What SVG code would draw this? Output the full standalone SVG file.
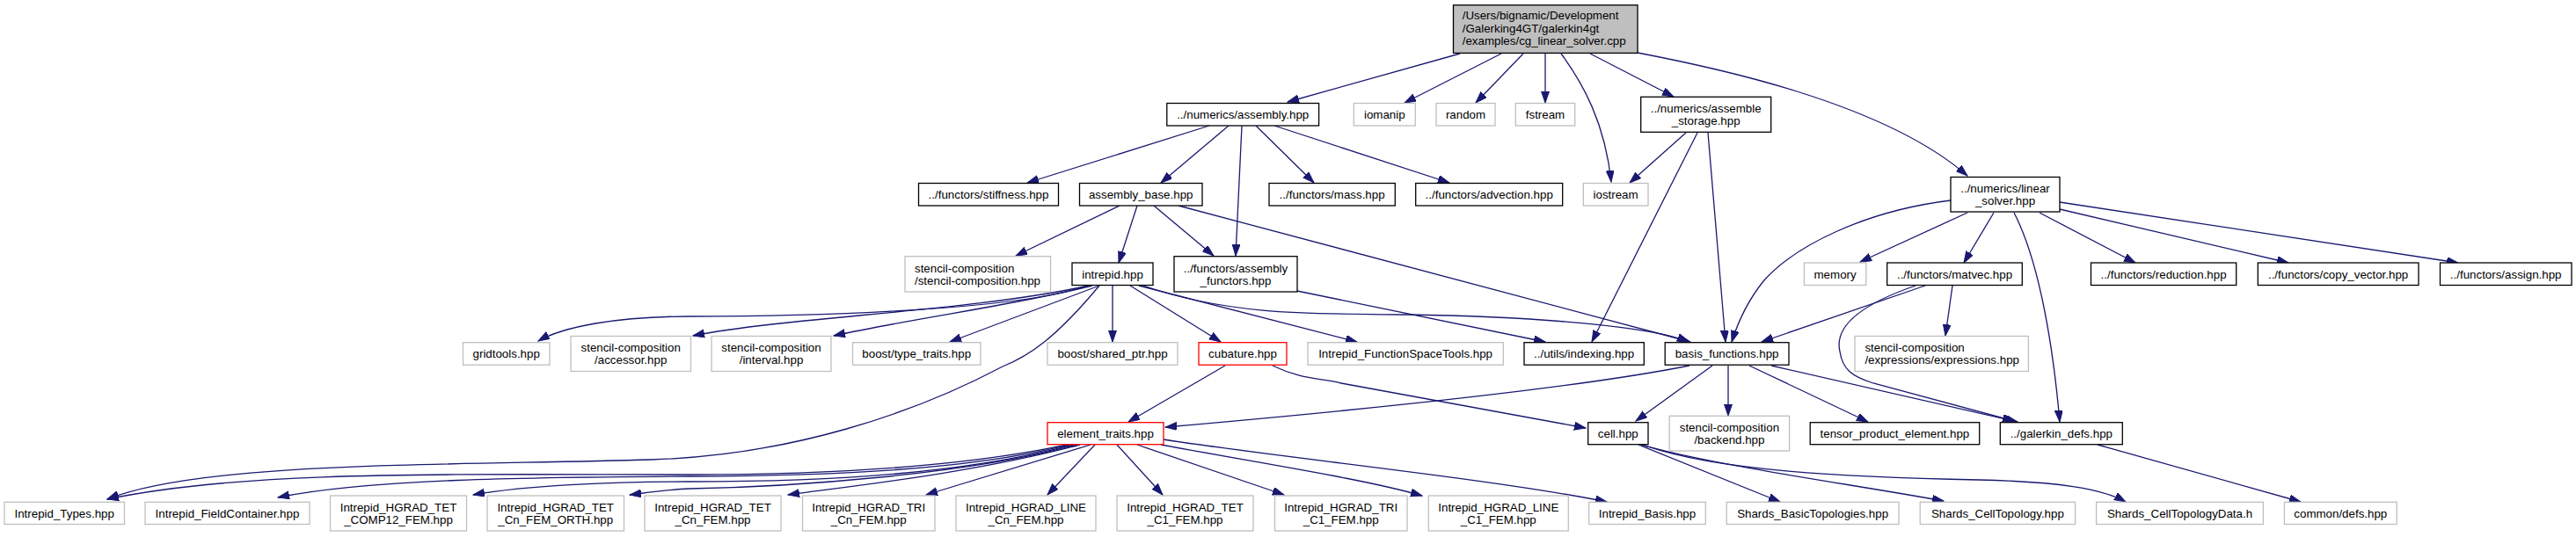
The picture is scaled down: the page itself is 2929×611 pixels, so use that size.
<svg xmlns="http://www.w3.org/2000/svg" width="2929" height="611" viewBox="0 0 2929 611">
<defs>
<marker id="ah" markerUnits="userSpaceOnUse" markerWidth="14" markerHeight="10" refX="13" refY="4.5" orient="auto" viewBox="0 0 14 10">
<path d="M0,0 L13,4.5 L0,9 Z" fill="#191970" stroke="#191970" stroke-width="1"/>
</marker>
<style>
rect{fill:#fff;stroke-width:1.3}
.b rect{stroke:#000}
.g rect{stroke:#bfbfbf}
.r rect{stroke:#ff0000}
.m rect{fill:#bfbfbf;stroke:#000}
text{font-family:"Liberation Sans",Arial,Helvetica,sans-serif;font-size:13.33px;fill:#000;text-anchor:middle}
text.l{text-anchor:start}
#edges path{fill:none;stroke:#191970;stroke-width:1.3;marker-end:url(#ah)}
</style>
</defs>
<rect x="0" y="0" width="2929" height="611" style="fill:#fff;stroke:none"/>
<g id="edges">
<path d="M1660,61 L1464,116"/>
<path d="M1707,61 L1597,117"/>
<path d="M1732,61 L1678,117"/>
<path d="M1757,61 L1757,117"/>
<path d="M1775,61 C1800,95 1825,140 1832,207"/>
<path d="M1808,61 L1903,110"/>
<path d="M1862,60 C1940,75 2140,115 2237,200"/>
<path d="M1375,143 L1168,208"/>
<path d="M1397,143 L1320,208"/>
<path d="M1412,143 L1405,291"/>
<path d="M1428,143 L1494,208"/>
<path d="M1449,143 L1648,208"/>
<path d="M1273,234 L1155,291"/>
<path d="M1293,234 L1272,299"/>
<path d="M1312,234 L1380,291"/>
<path d="M1340,234 L1922,389"/>
<path d="M1470,330 L1757,389"/>
<path d="M1237,325 C1150,355 900,360 784,360 C700,360 640,372 612,388"/>
<path d="M1238,325 C1100,355 900,360 788,382"/>
<path d="M1242,325 C1150,348 1050,360 948,382"/>
<path d="M1250,325 L1080,389"/>
<path d="M1250,325 C1200,385 1170,405 1140,417 C1040,470 900,518 740,523 C500,530 230,525 122,568"/>
<path d="M1265,325 L1265,389"/>
<path d="M1285,325 L1388,389"/>
<path d="M1295,325 L1543,389"/>
<path d="M1300,325 C1400,360 1500,357 1600,358 C1750,360 1880,372 1920,389"/>
<path d="M1393,416 L1283,480"/>
<path d="M1447,416 C1480,432 1500,430 1525,436 L1803,487"/>
<path d="M1921,416 C1800,440 1600,462 1325,486"/>
<path d="M1947,416 L1860,479"/>
<path d="M1965,416 L1965,473"/>
<path d="M1989,416 L2124,480"/>
<path d="M2014,416 L2294,480"/>
<path d="M1863,506 L2024,571"/>
<path d="M1866,506 C1950,530 2100,550 2210,570"/>
<path d="M1868,506 C1950,536 2100,543 2250,546 C2340,548 2390,556 2417,571"/>
<path d="M2385,506 L2616,571"/>
<path d="M2218,228 C2120,240 2040,280 2005,320 C1985,345 1975,370 1969,389"/>
<path d="M2237,242 L2115,298"/>
<path d="M2267,242 L2233,299"/>
<path d="M2290,242 C2320,300 2335,400 2342,480"/>
<path d="M2319,242 L2428,299"/>
<path d="M2342,238 L2602,299"/>
<path d="M2342,230 L2795,299"/>
<path d="M1917,151 L1853,208"/>
<path d="M1930,151 L1810,389"/>
<path d="M1942,151 L1962,389"/>
<path d="M2189,325 L2003,389"/>
<path d="M2220,325 L2212,382"/>
<path d="M2178,325 C2120,345 2085,370 2092,400 C2095,420 2105,428 2130,436 L2290,479"/>
<path d="M1213,506 C1100,530 950,540 784,540 C500,540 280,535 122,568"/>
<path d="M1216,506 C1100,535 950,541 784,542 C600,543 420,545 316,566"/>
<path d="M1220,506 C1100,538 950,548 784,548 C700,548 600,552 538,563"/>
<path d="M1224,506 C1100,540 900,554 784,556 C760,557 740,560 716,563"/>
<path d="M1228,506 C1100,540 950,555 896,563"/>
<path d="M1240,506 L1053,563"/>
<path d="M1245,506 L1191,563"/>
<path d="M1270,506 L1322,563"/>
<path d="M1293,506 L1460,563"/>
<path d="M1320,506 C1450,530 1550,545 1617,564"/>
<path d="M1323,500 C1450,520 1700,545 1827,571"/>
</g>

<g id="main" class="m"><rect x="1652.5" y="5.8" width="209.5" height="54.6"/>
<text class="l" x="1662.7" y="22.2">/Users/bignamic/Development</text>
<text class="l" x="1662.7" y="36.8">/Galerking4GT/galerkin4gt</text>
<text class="l" x="1662.7" y="51.4">/examples/cg_linear_solver.cpp</text></g>

<g id="assembly" class="b"><rect x="1326.8" y="117.5" width="172.8" height="25.5"/><text x="1413.2" y="135">../numerics/assembly.hpp</text></g>
<g id="iomanip" class="g"><rect x="1539.3" y="117.5" width="70" height="25.5"/><text x="1574.3" y="135">iomanip</text></g>
<g id="random" class="g"><rect x="1633" y="117.5" width="67" height="25.5"/><text x="1666.5" y="135">random</text></g>
<g id="fstream" class="g"><rect x="1723.3" y="117.5" width="67.4" height="25.5"/><text x="1757" y="135">fstream</text></g>
<g id="assemble_storage" class="b"><rect x="1865.7" y="110.3" width="148" height="40"/><text x="1939.7" y="128">../numerics/assemble</text><text x="1939.7" y="142">_storage.hpp</text></g>

<g id="stiffness" class="b"><rect x="1044.5" y="208.5" width="159" height="25.5"/><text x="1124" y="226">../functors/stiffness.hpp</text></g>
<g id="assembly_base" class="b"><rect x="1227.5" y="208.5" width="139.5" height="25.5"/><text x="1297.2" y="226">assembly_base.hpp</text></g>
<g id="mass" class="b"><rect x="1443" y="208.5" width="143.3" height="25.5"/><text x="1514.6" y="226">../functors/mass.hpp</text></g>
<g id="advection" class="b"><rect x="1609.7" y="208.5" width="167" height="25.5"/><text x="1693.2" y="226">../functors/advection.hpp</text></g>
<g id="iostream" class="g"><rect x="1800.3" y="208.5" width="73.7" height="25.5"/><text x="1837.1" y="226">iostream</text></g>
<g id="linear_solver" class="b"><rect x="2218" y="201.5" width="124" height="39.5"/><text x="2280" y="219">../numerics/linear</text><text x="2280" y="233">_solver.hpp</text></g>

<g id="stencil_composition" class="g"><rect x="1029" y="291.7" width="165.5" height="40.3"/><text class="l" x="1040" y="309.5">stencil-composition</text><text class="l" x="1040" y="323.5">/stencil-composition.hpp</text></g>
<g id="intrepid" class="b"><rect x="1219" y="299" width="92" height="25.5"/><text x="1265" y="316.5">intrepid.hpp</text></g>
<g id="assembly_functors" class="b"><rect x="1335" y="291.7" width="140" height="40.3"/><text x="1405" y="309.5">../functors/assembly</text><text x="1405" y="323.5">_functors.hpp</text></g>
<g id="memory" class="g"><rect x="2051.4" y="299" width="70.4" height="25.5"/><text x="2086.6" y="316.5">memory</text></g>
<g id="matvec" class="b"><rect x="2145.7" y="299" width="153.6" height="25.5"/><text x="2222.5" y="316.5">../functors/matvec.hpp</text></g>
<g id="reduction" class="b"><rect x="2377.5" y="299" width="165.2" height="25.5"/><text x="2460.1" y="316.5">../functors/reduction.hpp</text></g>
<g id="copy_vector" class="b"><rect x="2567.3" y="299" width="182.7" height="25.5"/><text x="2658.6" y="316.5">../functors/copy_vector.hpp</text></g>
<g id="assign" class="b"><rect x="2774.5" y="299" width="149.5" height="25.5"/><text x="2849.2" y="316.5">../functors/assign.hpp</text></g>

<g id="gridtools" class="g"><rect x="526.5" y="389.7" width="98.5" height="25.5"/><text x="575.7" y="407.2">gridtools.hpp</text></g>
<g id="accessor" class="g"><rect x="649" y="382.5" width="136.5" height="40"/><text x="717.2" y="400.2">stencil-composition</text><text x="717.2" y="414.2">/accessor.hpp</text></g>
<g id="interval" class="g"><rect x="809" y="382.5" width="136" height="40"/><text x="877" y="400.2">stencil-composition</text><text x="877" y="414.2">/interval.hpp</text></g>
<g id="type_traits" class="g"><rect x="969.5" y="389.7" width="145.5" height="25.5"/><text x="1042.2" y="407.2">boost/type_traits.hpp</text></g>
<g id="shared_ptr" class="g"><rect x="1191" y="389.7" width="148" height="25.5"/><text x="1265" y="407.2">boost/shared_ptr.hpp</text></g>
<g id="cubature" class="r"><rect x="1363" y="389.7" width="100" height="25.5"/><text x="1413" y="407.2">cubature.hpp</text></g>
<g id="function_space_tools" class="g"><rect x="1487" y="389.7" width="222.3" height="25.5"/><text x="1598.1" y="407.2">Intrepid_FunctionSpaceTools.hpp</text></g>
<g id="indexing" class="b"><rect x="1733" y="389.7" width="136.3" height="25.5"/><text x="1801.1" y="407.2">../utils/indexing.hpp</text></g>
<g id="basis_functions" class="b"><rect x="1893.2" y="389.7" width="140.8" height="25.5"/><text x="1963.6" y="407.2">basis_functions.hpp</text></g>
<g id="expressions" class="g"><rect x="2109" y="382.5" width="197.4" height="40"/><text class="l" x="2120.4" y="400.2">stencil-composition</text><text class="l" x="2120.4" y="414.2">/expressions/expressions.hpp</text></g>

<g id="element_traits" class="r"><rect x="1191" y="480.7" width="132" height="25"/><text x="1257" y="497.9">element_traits.hpp</text></g>
<g id="cell" class="b"><rect x="1805.7" y="480.7" width="68.3" height="25"/><text x="1839.8" y="497.9">cell.hpp</text></g>
<g id="backend" class="g"><rect x="1898.2" y="473.3" width="136.4" height="39.7"/><text x="1966.4" y="490.9">stencil-composition</text><text x="1966.4" y="504.9">/backend.hpp</text></g>
<g id="tensor_product" class="b"><rect x="2058.2" y="480.7" width="192.5" height="25"/><text x="2154.4" y="497.9">tensor_product_element.hpp</text></g>
<g id="galerkin_defs" class="b"><rect x="2274.3" y="480.7" width="139" height="25"/><text x="2343.8" y="497.9">../galerkin_defs.hpp</text></g>

<g id="intrepid_types" class="g"><rect x="5" y="571.3" width="136.5" height="25.2"/><text x="73.2" y="588.7">Intrepid_Types.hpp</text></g>
<g id="field_container" class="g"><rect x="165" y="571.3" width="187" height="25.2"/><text x="258.5" y="588.7">Intrepid_FieldContainer.hpp</text></g>
<g id="tet_comp12" class="g"><rect x="375.5" y="564" width="155" height="40"/><text x="453" y="581.7">Intrepid_HGRAD_TET</text><text x="453" y="595.7">_COMP12_FEM.hpp</text></g>
<g id="tet_cn_orth" class="g"><rect x="554" y="564" width="155.5" height="40"/><text x="631.7" y="581.7">Intrepid_HGRAD_TET</text><text x="631.7" y="595.7">_Cn_FEM_ORTH.hpp</text></g>
<g id="tet_cn" class="g"><rect x="733" y="564" width="155" height="40"/><text x="810.5" y="581.7">Intrepid_HGRAD_TET</text><text x="810.5" y="595.7">_Cn_FEM.hpp</text></g>
<g id="tri_cn" class="g"><rect x="912.5" y="564" width="150.5" height="40"/><text x="987.7" y="581.7">Intrepid_HGRAD_TRI</text><text x="987.7" y="595.7">_Cn_FEM.hpp</text></g>
<g id="line_cn" class="g"><rect x="1087" y="564" width="159" height="40"/><text x="1166.5" y="581.7">Intrepid_HGRAD_LINE</text><text x="1166.5" y="595.7">_Cn_FEM.hpp</text></g>
<g id="tet_c1" class="g"><rect x="1270" y="564" width="155" height="40"/><text x="1347.5" y="581.7">Intrepid_HGRAD_TET</text><text x="1347.5" y="595.7">_C1_FEM.hpp</text></g>
<g id="tri_c1" class="g"><rect x="1449.5" y="564" width="150.5" height="40"/><text x="1524.7" y="581.7">Intrepid_HGRAD_TRI</text><text x="1524.7" y="595.7">_C1_FEM.hpp</text></g>
<g id="line_c1" class="g"><rect x="1624.3" y="564" width="159" height="40"/><text x="1703.8" y="581.7">Intrepid_HGRAD_LINE</text><text x="1703.8" y="595.7">_C1_FEM.hpp</text></g>
<g id="intrepid_basis" class="g"><rect x="1806.7" y="571.3" width="132.6" height="25.2"/><text x="1873" y="588.7">Intrepid_Basis.hpp</text></g>
<g id="shards_basic" class="g"><rect x="1963.2" y="571.3" width="195.8" height="25.2"/><text x="2061.1" y="588.7">Shards_BasicTopologies.hpp</text></g>
<g id="shards_cell" class="g"><rect x="2183.2" y="571.3" width="176.4" height="25.2"/><text x="2271.4" y="588.7">Shards_CellTopology.hpp</text></g>
<g id="shards_data" class="g"><rect x="2383.6" y="571.3" width="189.8" height="25.2"/><text x="2478.5" y="588.7">Shards_CellTopologyData.h</text></g>
<g id="common_defs" class="g"><rect x="2597.4" y="571.3" width="127.8" height="25.2"/><text x="2661.3" y="588.7">common/defs.hpp</text></g>
</svg>
